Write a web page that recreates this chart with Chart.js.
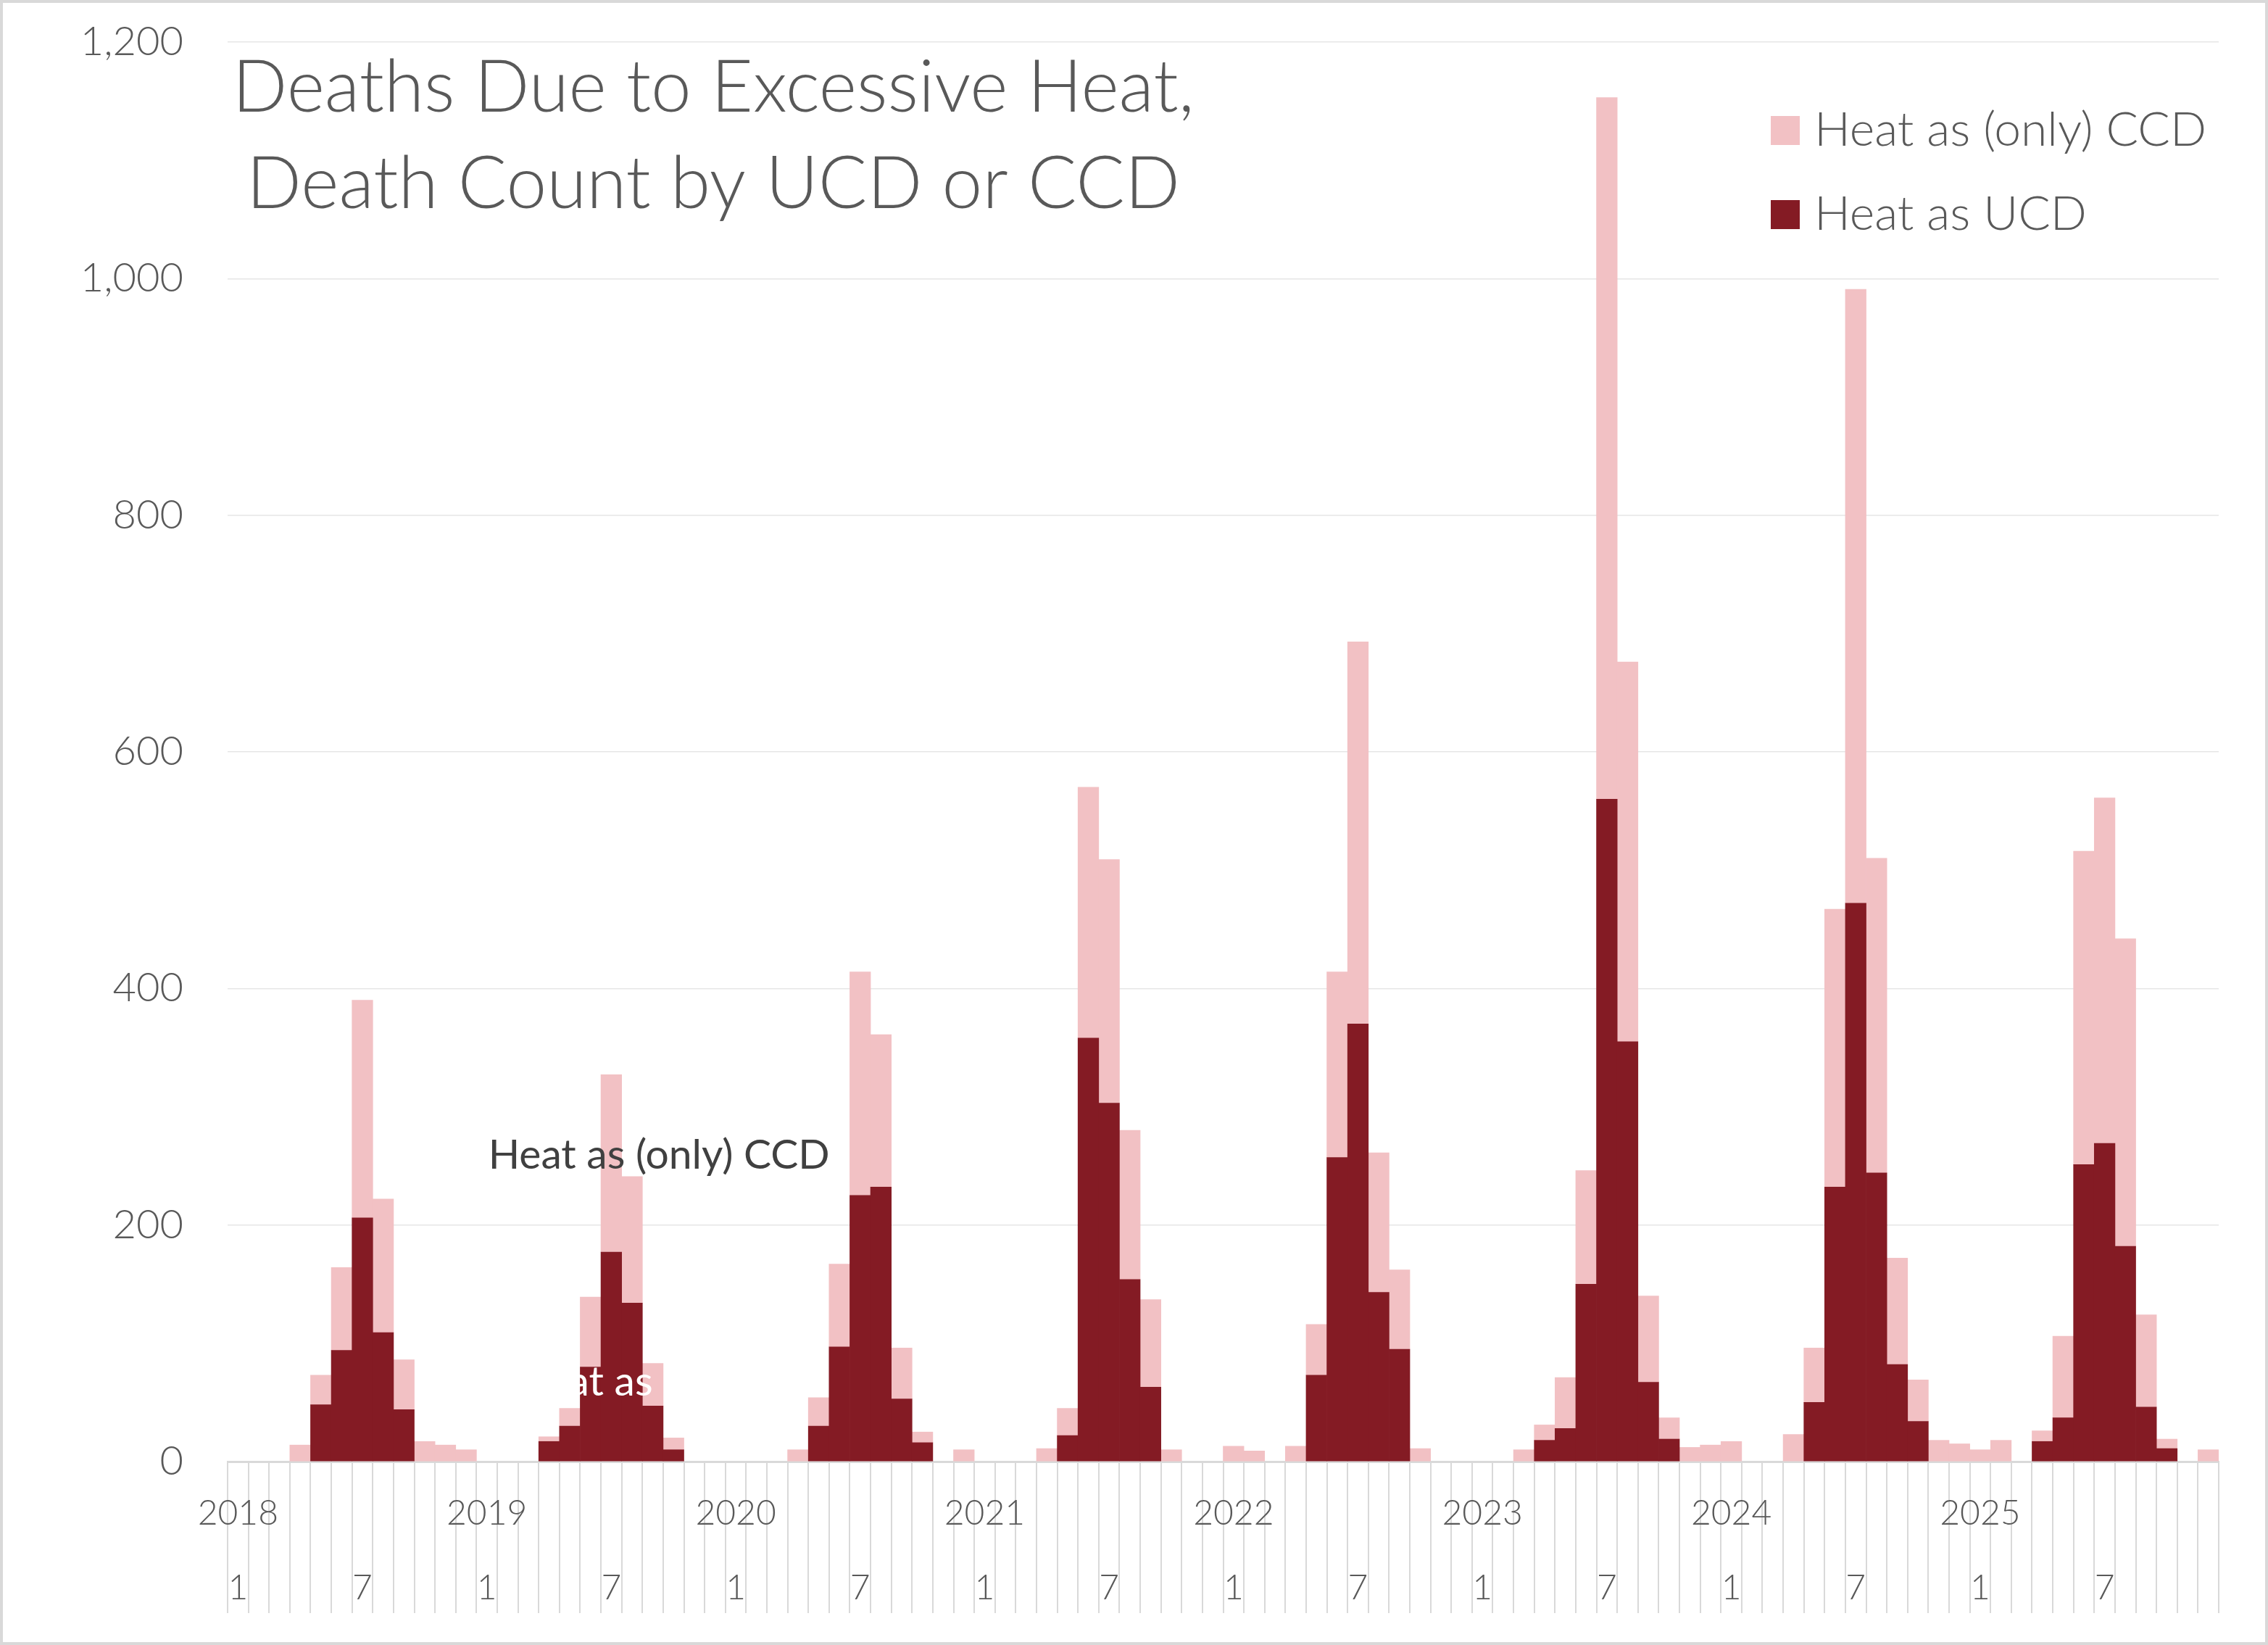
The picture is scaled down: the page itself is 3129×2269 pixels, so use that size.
<!DOCTYPE html>
<html>
<head>
<meta charset="utf-8">
<title>Deaths Due to Excessive Heat</title>
<script src="https://cdn.jsdelivr.net/npm/chart.js@4.4.1/dist/chart.umd.min.js"></script>
<style>
  html, body { margin: 0; padding: 0; background: #fff; }
  #box { width: 3129px; height: 2269px; position: relative; }
</style>
</head>
<body>
<div id="box"><canvas id="heatChart"></canvas></div>
<script>
// monthly categories, Jan 2018 .. Dec 2025
const years = [2018, 2019, 2020, 2021, 2022, 2023, 2024, 2025]
const monthNumbers = [1, 2, 3, 4, 5, 6, 7, 8, 9, 10, 11, 12]
const shownMonths = [1, 7]

// heat as underlying cause of death
const ucdDeaths = [
  0, 0, 0, 0, 48, 94, 206, 109, 44, 0, 0, 0,
  0, 0, 0, 17, 30, 80, 177, 134, 47, 10, 0, 0,
  0, 0, 0, 0, 30, 97, 225, 232, 53, 16, 0, 0,
  0, 0, 0, 0, 22, 358, 303, 154, 63, 0, 0, 0,
  0, 0, 0, 0, 73, 257, 370, 143, 95, 0, 0, 0,
  0, 0, 0, 18, 28, 150, 560, 355, 67, 19, 0, 0,
  0, 0, 0, 0, 50, 232, 472, 244, 82, 34, 0, 0,
  0, 0, 0, 17, 37, 251, 269, 182, 46, 11, 0, 0
]

// heat only as contributing cause of death (stacked on top)
const ccdOnlyDeaths = [
  0, 0, 0, 14, 25, 70, 184, 113, 42, 17, 14, 10,
  0, 0, 0, 4, 15, 59, 150, 107, 36, 10, 0, 0,
  0, 0, 0, 10, 24, 70, 189, 129, 43, 9, 0, 10,
  0, 0, 0, 11, 23, 212, 206, 126, 74, 10, 0, 0,
  13, 9, 0, 13, 43, 157, 323, 118, 67, 11, 0, 0,
  0, 0, 10, 13, 43, 96, 593, 321, 73, 18, 12, 14,
  17, 0, 0, 23, 46, 235, 519, 266, 90, 35, 18, 15,
  10, 18, 0, 9, 69, 265, 292, 260, 78, 8, 0, 10
]

const yTickMin = 0
const yTickMax = 1200
const yTickStep = 200

const titleLines = ["Deaths Due to Excessive Heat,", "Death Count by UCD or CCD"]

// leftover series-name labels that sit on the plot
const seriesNotes = [
  { text: "Heat as (only) CCD", index: 20.3, value: 259, color: "#404040", align: "center" },
  { text: "Heat as", index: 20, value: 67, color: "#ffffff", align: "right" }
]

const monthCategories = []
years.forEach(y => monthNumbers.forEach(m => monthCategories.push({ year: y, month: m })))

const gray = "#595959"
const fontName = "Lato, 'Open Sans', sans-serif"

const decorPlugin = {
  id: "decor",
  afterDatasetsDraw(chart) {
    const { ctx, chartArea, scales } = chart
    ctx.save()

    ctx.font = "400 57px " + fontName
    ctx.textBaseline = "middle"
    seriesNotes.forEach(n => {
      ctx.fillStyle = n.color
      ctx.textAlign = n.align
      ctx.fillText(n.text, scales.x.getPixelForValue(n.index), scales.y.getPixelForValue(n.value))
    })

    // title
    ctx.fillStyle = gray
    ctx.font = "300 100px " + fontName
    ctx.textAlign = "center"
    ctx.textBaseline = "alphabetic"
    ctx.fillText(titleLines[0], chartArea.left + 670, chartArea.top + 96)
    ctx.fillText(titleLines[1], chartArea.left + 670, chartArea.top + 229)

    // legend, top right
    const x0 = chartArea.right - 618
    const items = chart.data.datasets.slice().reverse()
    ctx.font = "300 66px " + fontName
    ctx.textAlign = "left"
    items.forEach((ds, i) => {
      const top = chartArea.top + 102 + i * 116
      ctx.fillStyle = ds.backgroundColor
      ctx.fillRect(x0, top, 40, 40)
      ctx.fillStyle = gray
      ctx.fillText(ds.label, x0 + 60, top + 41)
    })
    ctx.restore()
  },
  afterDraw(chart) {
    const { ctx, width, height } = chart
    ctx.save()
    ctx.strokeStyle = "#d9d9d9"
    ctx.lineWidth = 4
    ctx.strokeRect(2, 2, width - 4, height - 4)
    ctx.restore()
  }
}

const heatChart = new Chart(document.getElementById("heatChart"), {
  type: "bar",
  data: {
    labels: monthCategories.map(c => c.year + "-" + c.month),
    datasets: [{
      label: "Heat as UCD",
      data: ucdDeaths.map(v => v || null),
      backgroundColor: "#841B24",
      borderWidth: 0,
      barPercentage: 1,
      categoryPercentage: 1
    }, {
      label: "Heat as (only) CCD",
      data: ccdOnlyDeaths.map(v => v || null),
      backgroundColor: "#F2C1C4",
      borderWidth: 0,
      barPercentage: 1,
      categoryPercentage: 1
    }]
  },
  options: {
    responsive: true,
    maintainAspectRatio: false,
    animation: false,
    devicePixelRatio: 1,
    layout: { padding: { top: 58, right: 68, left: 0, bottom: 0 } },
    plugins: {
      legend: { display: false },
      title: { display: false },
      tooltip: { enabled: false }
    },
    scales: {
      x: {
        stacked: true,
        afterFit: s => { s.height = 253 },
        border: { color: "#d9d9d9", width: 3 },
        grid: {
          offset: true,
          drawOnChartArea: false,
          color: "#d9d9d9",
          lineWidth: 2,
          tickLength: 209
        },
        ticks: {
          autoSkip: false,
          maxRotation: 0,
          minRotation: 0,
          padding: -189,
          color: gray,
          font: { family: fontName, size: 48, weight: 300, lineHeight: 103 / 48 },
          callback: function (val, i) {
            const c = monthCategories[i]
            if (!shownMonths.includes(c.month)) return ""
            return [c.month === 1 ? String(c.year) : "", String(c.month)]
          }
        }
      },
      y: {
        stacked: true,
        min: yTickMin,
        max: yTickMax,
        afterFit: s => {
          s.width = 314
          s.paddingTop = 0
          s.paddingBottom = 0
        },
        border: { display: false },
        grid: { color: "#e6e6e6", lineWidth: 1.5, drawTicks: false },
        ticks: {
          stepSize: yTickStep,
          padding: 61,
          color: gray,
          font: { family: fontName, size: 56, weight: 300 }
        }
      }
    }
  },
  plugins: [decorPlugin]
})
</script>
</body>
</html>
